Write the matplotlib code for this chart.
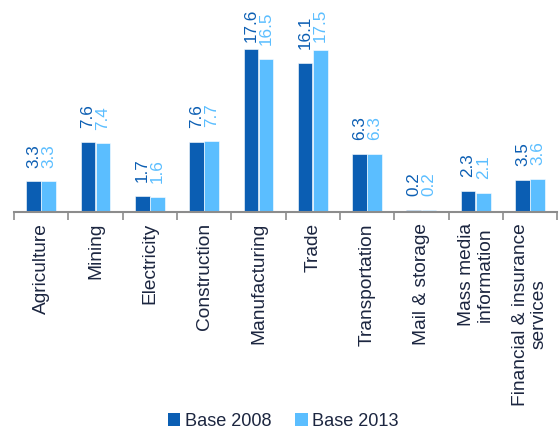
import numpy as np
import matplotlib
matplotlib.use("Agg")
import matplotlib.pyplot as plt
from matplotlib.patches import Patch

plt.rcParams['font.family'] = ['Liberation Sans', 'DejaVu Sans']

# Data
categories = ["Agriculture", "Mining", "Electricity", "Construction", "Manufacturing",
              "Trade", "Transportation", "Mail & storage", "Mass media\ninformation",
              "Financial & insurance\nservices"]
base_2008 = [3.3, 7.6, 1.7, 7.6, 17.6, 16.1, 6.3, 0.2, 2.3, 3.5]
base_2013 = [3.3, 7.4, 1.6, 7.7, 16.5, 17.5, 6.3, 0.2, 2.1, 3.6]
series_names = ["Base 2008", "Base 2013"]

dark = "#0B5EB3"
light = "#5BBEFF"
axis_gray = "#8C8C8C"
text_navy = "#1C2640"

fig = plt.figure(figsize=(5.6, 4.3), dpi=100)
ax = fig.add_axes([0.025, 0.507, 0.97, 0.493])

x = np.arange(len(categories))
w = 0.27
off = 0.14
ax.bar(x - off, base_2008, width=w, color=dark, edgecolor="white", linewidth=0.4)
ax.bar(x + off, base_2013, width=w, color=light, edgecolor="white", linewidth=0.4)

# value labels above each bar (pushed down when they would leave the plot area)
for xs, vals, col in [(x - off, base_2008, dark), (x + off, base_2013, light)]:
    for xi, v in zip(xs, vals):
        ax.text(xi, min(v + 1.5, 18.35), f"{v:.1f}", rotation=90, ha="center",
                va="bottom", color=col, fontsize=12.3)

ax.set_xlim(-0.5, len(categories) - 0.5)
ax.set_ylim(0, 22.9)

for s in ["top", "right", "left"]:
    ax.spines[s].set_visible(False)
ax.spines["bottom"].set_color(axis_gray)
ax.spines["bottom"].set_linewidth(1.5)
ax.set_yticks([])

ax.set_xticks(x)
ax.set_xticklabels(categories, rotation=90, fontsize=13.8, color=text_navy,
                   ha="center", va="top", multialignment="center", linespacing=1.1)
ax.tick_params(axis="x", which="major", length=0, pad=8)
ax.set_xticks(np.arange(len(categories) + 1) - 0.5, minor=True)
ax.tick_params(axis="x", which="minor", length=6, width=1.2, color=axis_gray)

handles = [Patch(facecolor=dark), Patch(facecolor=light)]
leg = fig.legend(handles, series_names, loc="lower center", bbox_to_anchor=(0.506, -0.038),
                 ncol=2, frameon=False, fontsize=13.1, handlelength=0.7, handleheight=0.7,
                 handletextpad=0.25, columnspacing=1.3)
for t in leg.get_texts():
    t.set_color(text_navy)

fig.savefig("out.png", dpi=100)
